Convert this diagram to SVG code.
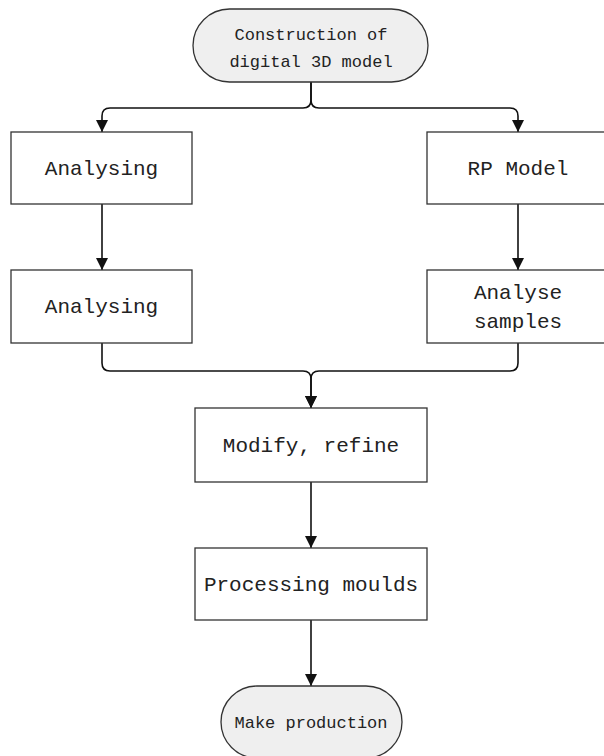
<svg xmlns="http://www.w3.org/2000/svg" width="604" height="756" viewBox="0 0 604 756">
  <style>
    .box { fill: #ffffff; stroke: #333333; stroke-width: 1.3; }
    .term { fill: #efefef; stroke: #333333; stroke-width: 1.3; }
    .label { font-family: "Liberation Mono", "DejaVu Sans Mono", monospace; font-size: 21px; fill: #222222; text-anchor: middle; }
    .small { font-size: 17px; }
    .conn { fill: none; stroke: #111111; stroke-width: 1.6; }
  </style>
  <defs>
    <marker id="arrow" viewBox="0 0 12 12" refX="12" refY="6" markerWidth="12" markerHeight="12" markerUnits="userSpaceOnUse" orient="auto">
      <path d="M0,0 L12,6 L0,12 Z" fill="#111111"/>
    </marker>
  </defs>

  <rect width="604" height="756" fill="#ffffff"/>

  <g id="connectors">
    <!-- split from the top terminal into the two branches -->
    <path class="conn" d="M311,82 V100 Q311,108 303,108 H110 Q102,108 102,116 V132" marker-end="url(#arrow)"/>
    <path class="conn" d="M311,82 V100 Q311,108 319,108 H510 Q518,108 518,116 V132" marker-end="url(#arrow)"/>
    <!-- branch steps -->
    <path class="conn" d="M102,204 V270" marker-end="url(#arrow)"/>
    <path class="conn" d="M518,204 V270" marker-end="url(#arrow)"/>
    <!-- merge into the modify step -->
    <path class="conn" d="M102,343 V363 Q102,371 110,371 H303 Q311,371 311,379 V408" marker-end="url(#arrow)"/>
    <path class="conn" d="M518,343 V363 Q518,371 510,371 H319 Q311,371 311,379 V408" marker-end="url(#arrow)"/>
    <!-- main line down -->
    <path class="conn" d="M311,482 V548" marker-end="url(#arrow)"/>
    <path class="conn" d="M311,620 V686" marker-end="url(#arrow)"/>
  </g>

  <g id="start">
    <rect class="term" x="193" y="9" width="235" height="73" rx="36.5" ry="36.5"/>
    <text class="label small" x="311" y="40">Construction of</text>
    <text class="label small" x="311" y="67">digital 3D model</text>
  </g>

  <g id="analysing-1">
    <rect class="box" x="11" y="132" width="181" height="72"/>
    <text class="label" x="101.5" y="175">Analysing</text>
  </g>

  <g id="rp-model">
    <rect class="box" x="427" y="132" width="182" height="72"/>
    <text class="label" x="518" y="175">RP Model</text>
  </g>

  <g id="analysing-2">
    <rect class="box" x="11" y="270" width="181" height="73"/>
    <text class="label" x="101.5" y="313">Analysing</text>
  </g>

  <g id="analyse-samples">
    <rect class="box" x="427" y="270" width="182" height="73"/>
    <text class="label" x="518" y="299">Analyse</text>
    <text class="label" x="518" y="328">samples</text>
  </g>

  <g id="modify-refine">
    <rect class="box" x="195" y="408" width="232" height="74"/>
    <text class="label" x="311" y="452">Modify, refine</text>
  </g>

  <g id="processing-moulds">
    <rect class="box" x="195" y="548" width="232" height="72"/>
    <text class="label" x="311" y="591">Processing moulds</text>
  </g>

  <g id="end">
    <rect class="term" x="221" y="686" width="181" height="72" rx="36" ry="36"/>
    <text class="label small" x="311" y="728">Make production</text>
  </g>
</svg>
